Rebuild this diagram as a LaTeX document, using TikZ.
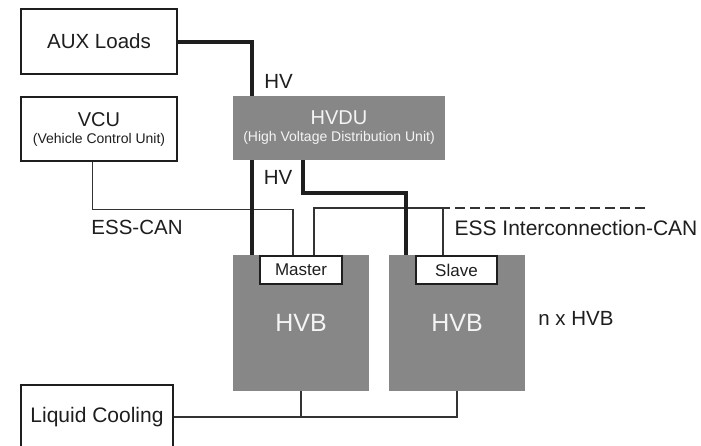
\documentclass[tikz,border=0pt]{standalone}
\usepackage{fontspec}
\setmainfont{Liberation Sans}
\usetikzlibrary{calc}
\definecolor{boxgray}{HTML}{878787}
\definecolor{ink}{HTML}{1E1E1E}
\definecolor{wire}{HTML}{333333}
\definecolor{paleText}{HTML}{F4F4F4}
\begin{document}
\begin{tikzpicture}[x=1pt,y=-1pt,
  lbl/.style={font=\fontsize{20.5}{24}\selectfont, text=ink, inner sep=0},
  whitebox/.style={draw=ink, fill=white, line width=1.8, minimum width=156, minimum height=65, inner sep=0, align=center, text=ink, font=\fontsize{20.5}{24}\selectfont},
  graybox/.style={fill=boxgray, draw=none, inner sep=0, align=center, text=paleText},
  twoline/.style={font=\fontsize{20}{18}\selectfont},
  tagbox/.style={draw=ink, fill=white, line width=1.6, minimum width=82, minimum height=28, inner sep=0, font=\fontsize{17}{20}\selectfont, text=ink},
  hvline/.style={line width=4, draw=ink},
  canline/.style={line width=1.2, draw=wire},
]
\clip (0,0) rectangle (701,445);
\fill[white] (0,0) rectangle (701,445);

% boxes
\node[whitebox] (aux) at (99,41.5) {AUX Loads};
\node[whitebox, twoline, line width=1.2, minimum height=64] (vcu) at (99,129)
  {VCU\\[-1pt]\fontsize{14}{18}\selectfont (Vehicle Control Unit)};
\node[graybox, twoline, minimum width=212, minimum height=64] (hvdu) at (339,128)
  {\raisebox{0pt}{HVDU}\\[-1pt]\fontsize{14}{18}\selectfont (High Voltage Distribution Unit)};
\node[graybox, minimum width=136, minimum height=136, font=\fontsize{25}{28}\selectfont] (master) at (301,323) {HVB};
\node[graybox, minimum width=136, minimum height=136, font=\fontsize{25}{28}\selectfont] (slave) at (457,323) {HVB};
\node[tagbox] (mtag) at (301,270) {Master};
\node[tagbox, minimum width=81] (stag) at (456.5,270) {Slave};
\node[whitebox, minimum width=152, minimum height=64, font=\fontsize{21}{24}\selectfont] (cool) at (97,417) {Liquid Cooling};

% labels
\node[lbl] (hv1) at (278.5,81.5) {HV};
\node[lbl] (hv2) at (278,177.5) {HV};
\node[lbl] (esscan) at (137,227) {ESS-CAN};
\node[lbl, font=\fontsize{21}{24}\selectfont] (icom) at (576,228) {ESS Interconnection-CAN};
\node[lbl] (nx) at (576,318.5) {n x HVB};

% CAN lines
\coordinate (jn) at (443,208);
\coordinate (dashS) at (455,208);
\coordinate (dashE) at (645,208);
\draw[canline] ([xshift=72]vcu.south west) -- ++(0,48) -| ([xshift=-8]mtag.north);
\draw[canline] ([xshift=13]mtag.north) |- (jn) -- (jn |- stag.north);
\draw[canline] (jn) -- ++(7,0);
\draw[canline, dash pattern=on 10 off 5] (dashS) -- (dashE);

% cooling lines
\draw[canline] (cool.east) -- (slave.south |- cool.east) -- (slave.south);
\draw[canline] (master.south) -- (master.south |- cool.east);

% HV lines
\draw[hvline] (aux.east) -| ([xshift=19]hvdu.north west);
\draw[hvline] ([xshift=19]hvdu.south west) -- ([xshift=19]master.north west);
\draw[hvline] ([xshift=70]hvdu.south west) -- ++(0,33) -| ([xshift=17]slave.north west);
\end{tikzpicture}
\end{document}
